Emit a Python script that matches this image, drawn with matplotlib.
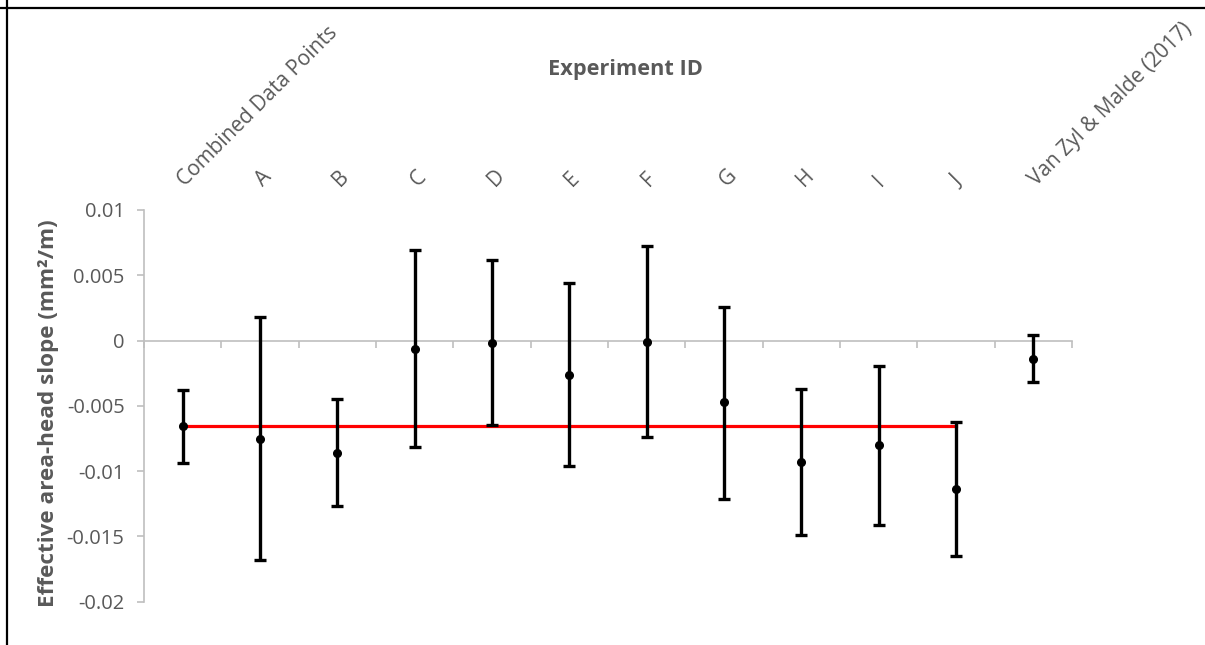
import matplotlib.pyplot as plt
from matplotlib.lines import Line2D
from matplotlib.ticker import FixedLocator, NullLocator
import numpy as np

plt.rcParams["font.family"] = ["Open Sans", "DejaVu Sans"]

# data
experiments = ["Combined Data Points", "A", "B", "C", "D", "E", "F", "G",
               "H", "I", "J", "Van Zyl & Malde (2017)"]
slope = [-0.00656, -0.00753, -0.00858, -0.00061, -0.00015, -0.0026,
         -0.0001, -0.00472, -0.00929, -0.00801, -0.01136, -0.00138]
upper = [-0.00381, 0.00178, -0.00446, 0.00697, 0.00615, 0.00442,
         0.00722, 0.00258, -0.0037, -0.00197, -0.00623, 0.00046]
lower = [-0.00937, -0.01682, -0.01269, -0.00814, -0.00643, -0.00957,
         -0.00735, -0.0121, -0.01488, -0.01409, -0.01652, -0.00316]
combined_mean = -0.00656

text_grey = "#595959"
axis_grey = "#BFBFBF"

x = np.arange(len(experiments))
slope = np.array(slope)
yerr = [slope - np.array(lower), np.array(upper) - slope]

fig = plt.figure(figsize=(12.05, 6.45), dpi=100)
ax = fig.add_axes([144 / 1205, 1 - 601.7 / 645, (1072 - 144) / 1205, (601.7 - 210) / 645])

# mean of combined data, drawn from first to last experiment
ax.plot([x[0], x[-2]], [combined_mean, combined_mean], color="#FF0000", lw=2.3, zorder=2)

ax.errorbar(x, slope, yerr=yerr, fmt="o", color="black", ms=5.5, elinewidth=2.4,
            capsize=4, capthick=2.4, zorder=3)

ax.set_xlim(-0.5, len(experiments) - 0.5)
ax.set_ylim(-0.02, 0.01)
ax.set_yticks([-0.02, -0.015, -0.01, -0.005, 0, 0.005, 0.01])
ax.set_yticklabels(["-0.02", "-0.015", "-0.01", "-0.005", "0", "0.005", "0.01"])

for s in ["top", "right"]:
    ax.spines[s].set_visible(False)
ax.spines["left"].set_color(axis_grey)
ax.spines["left"].set_linewidth(1.2)
ax.spines["bottom"].set_position(("data", 0))
ax.spines["bottom"].set_color(axis_grey)
ax.spines["bottom"].set_linewidth(1.2)

ax.xaxis.set_major_locator(FixedLocator(np.arange(-0.5, len(experiments), 1.0)))
ax.xaxis.set_minor_locator(NullLocator())
ax.tick_params(axis="x", direction="out", length=5, width=1.2, color=axis_grey,
               labelbottom=False)
ax.tick_params(axis="y", direction="out", length=5, width=1.2, color=axis_grey,
               labelcolor=text_grey, labelsize=14.5, pad=9)

# category labels sit above the plot, rotated
trans = ax.get_xaxis_transform()
for xi, name in zip(x, experiments):
    ax.text(xi + 0.08, 1.05, name, transform=trans, rotation=45,
            rotation_mode="anchor", ha="left", va="bottom",
            fontsize=15, color=text_grey, clip_on=False)

fig.text(625 / 1205, 1 - 69 / 645, "Experiment ID", ha="center", va="center",
         fontsize=15.7, fontweight="bold", color=text_grey)
fig.text(48.5 / 1205, 1 - 413.5 / 645, "Effective area-head slope (mm\u00b2/m)",
         rotation=90, ha="center", va="center", fontsize=16.2,
         fontweight="bold", color=text_grey)

# outer frame (top and left edges only)
fig.add_artist(Line2D([0, 1], [1 - 7.5 / 645, 1 - 7.5 / 645], color="black", lw=1.6,
                      transform=fig.transFigure))
fig.add_artist(Line2D([6.5 / 1205, 6.5 / 1205], [0, 1], color="black", lw=1.6,
                      transform=fig.transFigure))

fig.savefig("out.png", dpi=100)
